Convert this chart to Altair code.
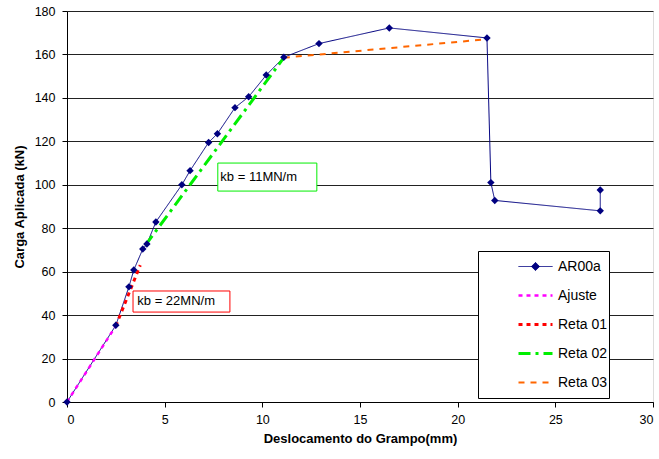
import altair as alt
import pandas as pd

FONT = "Liberation Sans"

# ---- data ----
series_names = ["AR00a", "Ajuste", "Reta 01", "Reta 02", "Reta 03"]
series_colors = ["#000080", "#FF00FF", "#FF0000", "#00EE00", "#FF6600"]
series_dash = [[1, 0], [4, 4], [4, 4], [12, 5, 3, 5], [6, 6]]
series_width = [1, 2.5, 3, 3, 2]
legend_shapes = ["M-1,0L1,0M0,-0.24L0.24,0L0,0.24L-0.24,0Z", "stroke", "stroke", "stroke", "stroke"]

ar_x = [0, 2.5, 3.17, 3.42, 3.88, 4.09, 4.55, 5.88, 6.3, 7.25, 7.7, 8.6, 9.3, 10.2, 11.1, 12.9, 16.5, 21.5, 21.7, 21.9, 27.3, 27.3]
ar_y = [0, 35.3, 53, 60.8, 70.4, 72.7, 82.9, 100, 106.5, 119.5, 123.5, 135.5, 140.5, 150.5, 158.7, 165, 172.2, 167.6, 101, 92.8, 88, 97.6]

ajuste_x = [0, 2.5]
ajuste_y = [0, 35]
reta01_x = [2.5, 3.75]
reta01_y = [35, 63]
reta02_x = [4.0, 11.1]
reta02_y = [72, 158.5]
reta03_x = [11.1, 21.5]
reta03_y = [158.5, 167]

note_text = ["kb = 22MN/m", "kb = 11MN/m"]
note_x = [3.6, 7.85]
note_y = [46.3, 103.6]
note_box_x1 = [3.38, 7.72]
note_box_x2 = [8.34, 12.79]
note_box_y1 = [41.4, 97.1]
note_box_y2 = [51.1, 110.0]
note_colors = ["#FF0000", "#00EE00"]

# ---- tables ----
rows = []
for name, xs, ys in [
    ("AR00a", ar_x, ar_y),
    ("Ajuste", ajuste_x, ajuste_y),
    ("Reta 01", reta01_x, reta01_y),
    ("Reta 02", reta02_x, reta02_y),
    ("Reta 03", reta03_x, reta03_y),
]:
    for i, (xv, yv) in enumerate(zip(xs, ys)):
        rows.append({"series": name, "x": xv, "y": yv, "idx": i})
df = pd.DataFrame(rows)
ar_df = df[df.series == "AR00a"]

notes = pd.DataFrame({
    "text": note_text, "x": note_x, "y": note_y,
    "bx1": note_box_x1, "bx2": note_box_x2, "by1": note_box_y1, "by2": note_box_y2,
    "c": note_colors,
})

xscale = alt.Scale(domain=[0, 30], nice=False)
yscale = alt.Scale(domain=[0, 180], nice=False)

x_axis = alt.Axis(
    values=list(range(0, 31, 5)), title="Deslocamento do Grampo(mm)", grid=False,
    tickSize=5, tickColor="black", domainColor="black",
    labelFontSize=12.5, labelColor="black", labelFont=FONT, labelPadding=6,
    titleFontSize=13, titleFont=FONT, titleFontWeight="bold", titleColor="black", titlePadding=7,
)
y_axis = alt.Axis(
    values=list(range(0, 181, 20)), title="Carga Aplicada (kN)", grid=True,
    gridColor="#222222", gridWidth=1, tickSize=5, tickColor="black", domainColor="black",
    labelFontSize=12.5, labelColor="black", labelFont=FONT, labelPadding=7,
    titleFontSize=13, titleFont=FONT, titleFontWeight="bold", titleColor="black", titlePadding=8,
)

NB = "\u00a0" * 14
leg = alt.Legend(
    title=None, orient="none", legendX=411, legendY=240,
    strokeColor="black", fillColor="white", padding=1,
    symbolSize=1156, symbolOffset=38, labelOffset=4,
    labelFontSize=14, labelFont=FONT, labelColor="black",
    clipHeight=29, rowPadding=0,
    labelExpr="datum.label + '" + NB + "'",
)

color_enc = alt.Color("series:N", scale=alt.Scale(domain=series_names, range=series_colors), legend=leg)

lines = alt.Chart(df).mark_line().encode(
    x=alt.X("x:Q", scale=xscale, axis=x_axis),
    y=alt.Y("y:Q", scale=yscale, axis=y_axis),
    color=color_enc,
    strokeDash=alt.StrokeDash("series:N", scale=alt.Scale(domain=series_names, range=series_dash), legend=leg),
    strokeWidth=alt.StrokeWidth("series:N", scale=alt.Scale(type="ordinal", domain=series_names, range=series_width), legend=leg),
    order="idx:Q",
)

legend_pts = alt.Chart(df).transform_filter("false").mark_point(filled=True, opacity=1).encode(
    x=alt.X("x:Q", scale=xscale),
    y=alt.Y("y:Q", scale=yscale),
    color=color_enc,
    shape=alt.Shape("series:N", scale=alt.Scale(domain=series_names, range=legend_shapes), legend=leg),
)

pts = alt.Chart(ar_df).mark_point(shape="diamond", filled=True, opacity=1, size=55, color="#000080").encode(
    x=alt.X("x:Q", scale=xscale),
    y=alt.Y("y:Q", scale=yscale),
)

boxes = alt.Chart(notes).mark_rect(fill="white", strokeWidth=1).encode(
    x="bx1:Q", x2="bx2:Q", y="by1:Q", y2="by2:Q",
    stroke=alt.Stroke("c:N", scale=None),
)
texts = alt.Chart(notes).mark_text(align="left", baseline="middle", fontSize=13, font=FONT, color="black").encode(
    x="x:Q", y="y:Q", text="text:N",
)

chart = alt.layer(lines, legend_pts, pts, boxes, texts).properties(
    width=586, height=391,
    autosize=alt.AutoSizeParams(type="none"),
    padding={"left": 67, "top": 11, "right": 6, "bottom": 57},
).configure_view(stroke="#808080", strokeWidth=2).configure(background="white")

chart.save("out.html", embed_options={"renderer": "svg", "actions": False})
